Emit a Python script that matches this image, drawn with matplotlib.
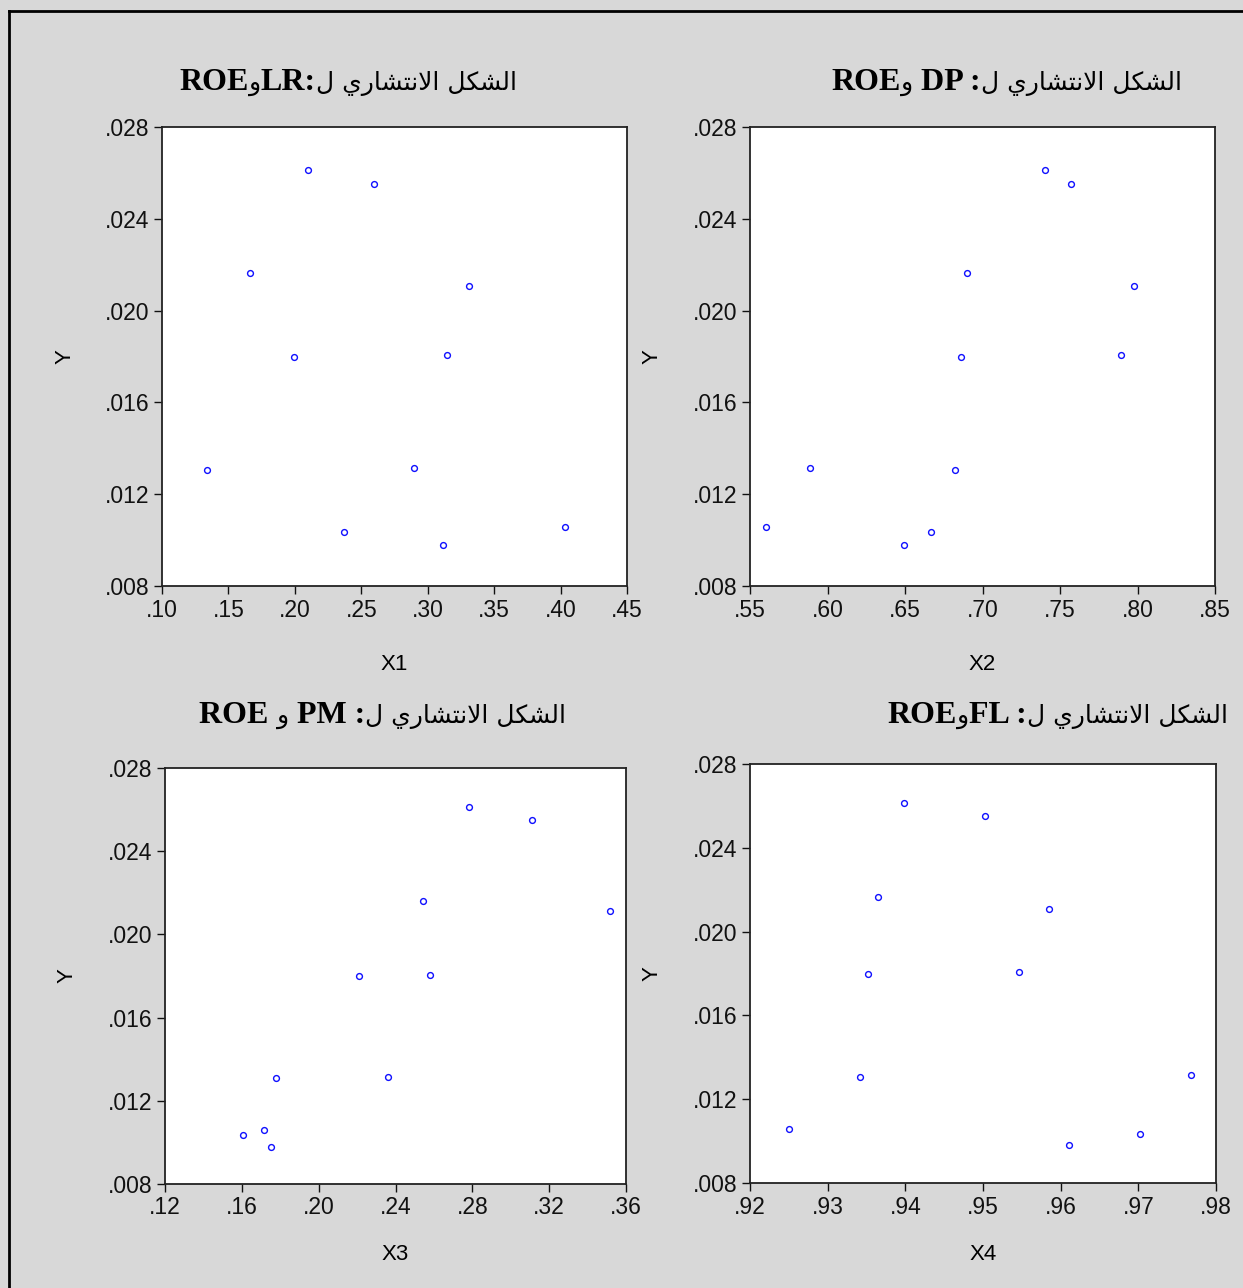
import matplotlib.pyplot as plt
from matplotlib.ticker import FuncFormatter

# shared Y (ROE)
y = [0.02613, 0.02552, 0.02164, 0.02107, 0.01798, 0.01807, 0.01305, 0.01314, 0.01035, 0.00979, 0.01057]

x1 = [0.2099, 0.2596, 0.1662, 0.3311, 0.1994, 0.3145, 0.1339, 0.2897, 0.2370, 0.3115, 0.4033]
x2 = [0.7403, 0.7571, 0.6900, 0.7977, 0.6861, 0.7894, 0.6823, 0.5887, 0.6668, 0.6494, 0.5603]
x3 = [0.2783, 0.3111, 0.2543, 0.3517, 0.2210, 0.2580, 0.1778, 0.2361, 0.1606, 0.1752, 0.1715]
y3 = [0.02613, 0.02550, 0.02161, 0.02112, 0.01800, 0.01805, 0.01310, 0.01314, 0.01036, 0.00978, 0.01060]
x4 = [0.9398, 0.9503, 0.9365, 0.9585, 0.9352, 0.9546, 0.9342, 0.9768, 0.9702, 0.9611, 0.9250]

# Arabic words in presentation forms, visual (left-to-right) order
shakl = "\uFEDE\uFEDC\uFEB8\uFEDF\uFE8D"
intishari = "\uFEF1\uFEAD\uFE8E\uFEB8\uFE98\uFEE7\uFEFB\uFE8D"
lam = "\uFEDD"
waw = "\uFEED"
tail = lam + " " + intishari + " " + shakl

# title pieces, left to right: (text, is_latin)
titles = [
    [("ROE", True), (waw, False), ("LR:", True), (tail, False)],
    [("ROE", True), (waw, False), (" DP :", True), (tail, False)],
    [("ROE ", True), (waw, False), (" PM :", True), (tail, False)],
    [("ROE", True), (waw, False), ("FL :", True), (tail, False)],
]

W, H = 1243, 1288
panels = [
    # xdata, ydata, xlabel, xlim, xticks, axes box px (l, t, r, b), title right end / baseline px
    (x1, y, "X1", (0.10, 0.45), [0.10, 0.15, 0.20, 0.25, 0.30, 0.35, 0.40, 0.45],
     (162, 127, 627, 586), (517, 90)),
    (x2, y, "X2", (0.55, 0.85), [0.55, 0.60, 0.65, 0.70, 0.75, 0.80, 0.85],
     (750, 127, 1215, 586), (1182, 90)),
    (x3, y3, "X3", (0.12, 0.36), [0.12, 0.16, 0.20, 0.24, 0.28, 0.32, 0.36],
     (165, 768, 626, 1184), (566, 723)),
    (x4, y, "X4", (0.92, 0.98), [0.92, 0.93, 0.94, 0.95, 0.96, 0.97, 0.98],
     (750, 764, 1216, 1183), (1228, 723)),
]
yticks = [0.008, 0.012, 0.016, 0.020, 0.024, 0.028]
xlabel_y = [664, 664, 1255, 1255]
ylabel_x = [65, 652, 67, 652]

bg = '#d8d8d8'
plt.rcParams['font.family'] = ['Liberation Sans', 'DejaVu Sans']
fig = plt.figure(figsize=(W / 100, H / 100), dpi=100, facecolor=bg)
renderer = fig.canvas.get_renderer()

# outer frame (left and top edges visible)
fig.add_artist(plt.Line2D([9 / W, 9 / W], [0, 1 - 11 / H], transform=fig.transFigure, color='black', lw=2))
fig.add_artist(plt.Line2D([9 / W, 1], [1 - 11 / H, 1 - 11 / H], transform=fig.transFigure, color='black', lw=2))

for i, (xs, ys, xl, xlim, xt, box, tpos) in enumerate(panels):
    l, t, r, b = box
    ax = fig.add_axes([l / W, 1 - b / H, (r - l) / W, (b - t) / H])
    ax.set_facecolor('white')
    ax.plot(xs, ys, 'o', mfc='none', mec='#1010ff', ms=4.2, mew=1.0)
    ax.set_xlim(xlim)
    ax.set_ylim(0.008, 0.028)
    ax.set_xticks(xt)
    ax.set_yticks(yticks)
    ax.xaxis.set_major_formatter(FuncFormatter(lambda v, p: f"{v:.2f}".lstrip('0')))
    ax.yaxis.set_major_formatter(FuncFormatter(lambda v, p: f"{v:.3f}".lstrip('0')))
    ax.tick_params(direction='out', length=6, width=1, labelsize=16.5, colors='#111111', pad=3)
    for s in ax.spines.values():
        s.set_linewidth(1.3)
        s.set_color('#222222')
    ax.set_xlabel(xl, fontsize=16)
    ax.set_ylabel("Y", fontsize=16)
    ax.xaxis.set_label_coords(0.5, -(xlabel_y[i] - b) / (b - t))
    ax.xaxis.label.set_va('center')
    ax.yaxis.set_label_coords((ylabel_x[i] - l) / (r - l), 0.5)
    ax.yaxis.label.set_va('center')
    ax.yaxis.label.set_ha('center')

    # title: lay pieces out from the right end leftwards
    xr = tpos[0]
    for txt, latin in reversed(titles[i]):
        if latin:
            kw = dict(fontsize=23, fontweight='bold', family=['Liberation Serif', 'DejaVu Sans'])
        else:
            kw = dict(fontsize=18, family=['DejaVu Sans'])
        tx = fig.text(xr / W, 1 - tpos[1] / H, txt, ha='right', va='baseline', color='black', **kw)
        bb = tx.get_window_extent(renderer)
        xr -= bb.width

fig.savefig('out.png', dpi=100, facecolor=bg)
